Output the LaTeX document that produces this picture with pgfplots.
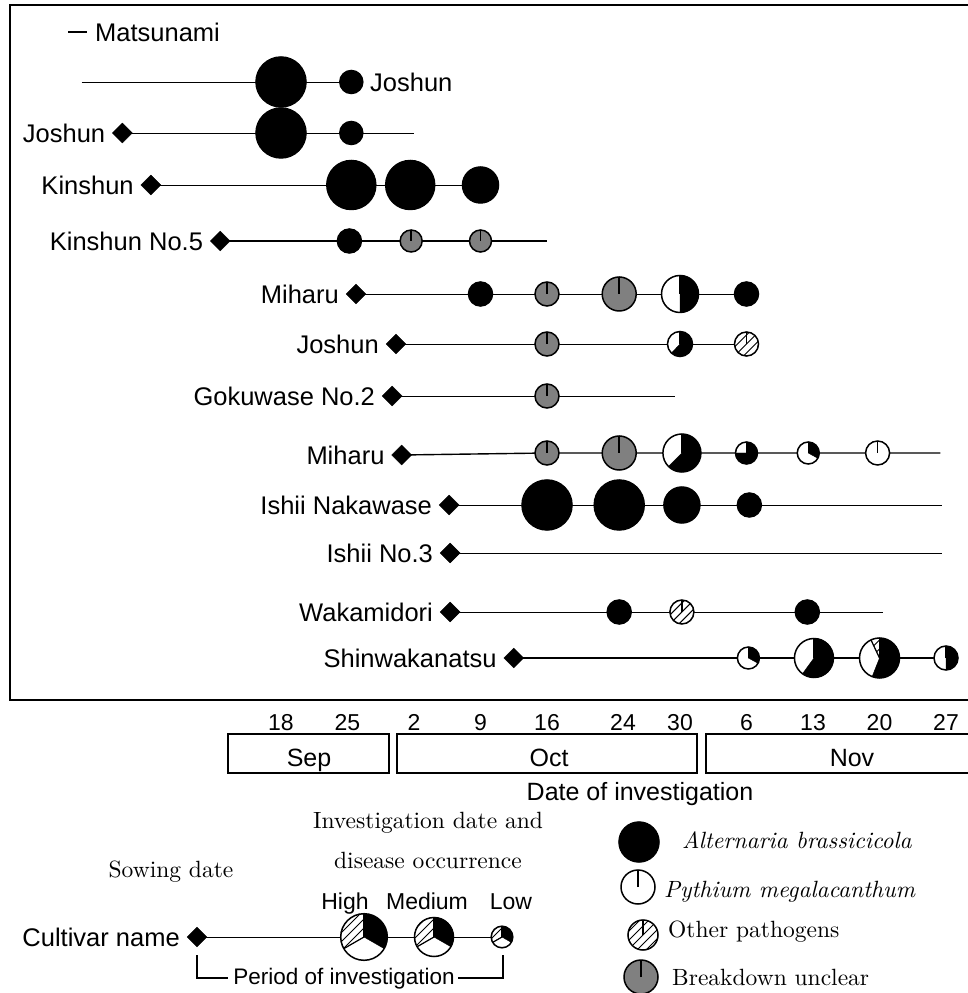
\documentclass[border=0pt]{standalone}
\usepackage{pgfplots}
\pgfplotsset{compat=1.18}
\usepackage{pgfplotstable}
\usepackage{fontspec}
\newfontfamily\arial{Liberation Sans}
\newfontfamily\serif{lmroman10-regular}[Extension=.otf, ItalicFont=lmroman10-italic]

% pie marker: black clockwise from 12 o'clock, hatched counter-clockwise from 12, rest white
\pgfdeclareplotmark{pie}{%
  \pgfmathsetmacro\pr{\pieR}%
  \pgfmathsetmacro\ab{90-360*\pieB}%
  \pgfmathsetmacro\ah{90+360*\pieH}%
  \ifdim\pieG pt>0.5pt
    \fill[gray] (0pt,0pt) circle[radius=\pr pt];
  \else
    \fill[white] (0pt,0pt) circle[radius=\pr pt];
    \ifdim\pieB pt>0pt
      \fill[black] (0pt,0pt) -- (90:\pr pt) arc[start angle=90,end angle=\ab,radius=\pr pt] -- cycle;
    \fi
    \ifdim\pieH pt>0pt
      \begin{scope}
        \clip (0pt,0pt) -- (90:\pr pt) arc[start angle=90,end angle=\ah,radius=\pr pt] -- cycle;
        \foreach \k in {-5,...,5}
          \draw[line width=1pt] (\k*9pt-30pt,-30pt) -- (\k*9pt+30pt,30pt);
      \end{scope}
      \draw[line width=1.2pt] (0pt,0pt) -- (\ah:\pr pt);
    \fi
  \fi
  \draw[line width=1.5pt] (0pt,0pt) circle[radius=\pr pt];
  \draw[line width=1.5pt] (0pt,0pt) -- (90:\pr pt);
}

% x = days counted from 1 Sep (18 = Sep 18, 32 = Oct 2, 67 = Nov 6), y = row position
\pgfplotstableread{
x     y     r     b      h     g
18    -82   25    1      0     0
25.4  -82   11.5  1      0     0
18    -133  25    1      0     0
25.4  -133  11.5  1      0     0
25.4  -185  24.5  1      0     0
31.6  -185  24.5  1      0     0
39    -185  18    1      0     0
25.2  -241  12    1      0     0
31.7  -241  11    0      0     1
39    -241  11    0      0     1
39    -294  12    1      0     0
46    -294  12    0      0     1
53.6  -294  17    0      0     1
60    -294  18.5  0.5    0     0
67    -294  12    1      0     0
46    -344  12    0      0     1
60    -344  12.5  0.62   0     0
67    -344  12    0      1     0
46    -396  12    0      0     1
46    -453  12    0      0     1
53.6  -453  17    0      0     1
60.2  -453  19    0.625  0     0
67    -453  11    0.75   0     0
73.5  -453  11    0.33   0     0
80.8  -453  12    0      0     0
46    -505  25    1      0     0
53.6  -505  25    1      0     0
60.2  -505  18    1      0     0
67.3  -505  12    1      0     0
53.6  -612  12    1      0     0
60.2  -612  12    0      1     0
73.4  -612  12    1      0     0
67.2  -658  11    0.33   0     0
74.1  -658  19.5  0.6    0     0
81    -658  20    0.56   0.07  0
88    -658  12    0.5    0     0
}\pies

% legend symbols
\pgfplotstableread{
x       y     r     b       h       g
26.737  -937  23.3  0.3333  0.3333  0
34.105  -937  19.5  0.3333  0.3333  0
41.263  -937  10.8  0.3333  0.3333  0
55.684  -842  20    1       0       0
55.579  -887  17    0       0       0
56.105  -935  15    0       1       0
55.895  -977  17    0       0       1
}\legpies

% sowing dates
\pgfplotstableread[col sep=comma]{
x,y,name
1.3,-133,Joshun
4.3,-185,Kinshun
11.6,-241,Kinshun No.5
25.9,-294,Miharu
30.1,-344,Joshun
29.7,-396,Gokuwase No.2
30.7,-455,Miharu
35.7,-505,Ishii Nakawase
35.8,-553,Ishii No.3
35.8,-612,Wakamidori
42.5,-658,Shinwakanatsu
9.158,-937,Cultivar name
}\sowing

\begin{document}
\begin{tikzpicture}
\begin{axis}[
    x=9.5pt, y=1pt,
    xmin=-10.526, xmax=90.316,
    ymin=-700, ymax=-5,
    axis line style={draw=none},
    xtick={18,25,32,39,46,54,60,67,74,81,88},
    xticklabels={18,25,2,9,16,24,30,6,13,20,27},
    ytick=\empty,
    major tick length=0pt,
    xticklabel style={font=\arial\fontsize{23}{23}\selectfont, anchor=base, yshift=-30pt},
    clip=false,
    cycle list={{black, solid, mark=none, line width=1.4pt}},
    pie marks/.style={black, only marks, mark=pie,
        visualization depends on={\thisrow{r}\as\pieR},
        visualization depends on={\thisrow{b}\as\pieB},
        visualization depends on={\thisrow{h}\as\pieH},
        visualization depends on={\thisrow{g}\as\pieG}},
]
% periods of investigation
\addplot coordinates {(-3,-82) (25.4,-82)};
\addplot coordinates {(1.3,-133) (32,-133)};
\addplot coordinates {(4.3,-185) (39,-185)};
\addplot coordinates {(11.6,-241) (46,-241)};
\addplot coordinates {(25.9,-294) (67,-294)};
\addplot coordinates {(30.1,-344) (67,-344)};
\addplot coordinates {(29.7,-396) (59.5,-396)};
\addplot coordinates {(30.7,-455) (46,-453) (87.4,-453)};
\addplot coordinates {(35.7,-505) (87.6,-505)};
\addplot coordinates {(35.8,-553) (87.6,-553)};
\addplot coordinates {(35.8,-612) (81.4,-612)};
\addplot coordinates {(42.5,-658) (88,-658)};
\addplot coordinates {(9.158,-937) (41.263,-937)};

% sowing dates with cultivar names
\addplot[black, only marks, mark=square*, mark size=7pt, mark options={rotate=45},
    nodes near coords, point meta=explicit symbolic,
    nodes near coords style={anchor=east, inner sep=0pt, xshift=-17pt,
        font=\arial\fontsize{25.5}{26}\selectfont}]
    table[x=x, y=y, meta=name]{\sowing};

% disease occurrence
\addplot[pie marks] table[x=x, y=y]{\pies};
\addplot[pie marks] table[x=x, y=y]{\legpies};

\draw[line width=1.3pt] (axis cs:92,-5) -- (axis cs:-10.526,-5)
    -- (axis cs:-10.526,-700) -- (axis cs:92,-700);
\coordinate (O) at (axis cs:-11.5789,0);
\coordinate (BR) at (axis cs:90.316,-993);
\end{axis}

\begin{scope}[shift={(O)}, x=1pt, y=-1pt]
  \draw[line width=1.2pt] (68,32) -- (87,32);
  \node[anchor=west, inner sep=0pt, font=\arial\fontsize{25.5}{26}\selectfont] at (95,32) {Matsunami};
  \node[anchor=west, inner sep=0pt, font=\arial\fontsize{25.5}{26}\selectfont] at (370,82) {Joshun};

  % month boxes
  \draw[line width=1.2pt] (228,734) rectangle (389,773);
  \draw[line width=1.2pt] (397,734) rectangle (697,773);
  \draw[line width=1.2pt] (1000,734) -- (706,734) -- (706,773) -- (1000,773);
  \begin{scope}[every node/.style={anchor=base, inner sep=0pt, font=\arial\fontsize{25}{26}\selectfont}]
    \node at (309,766) {Sep};
    \node at (549,766) {Oct};
    \node at (852,766) {Nov};
    \node at (640,800) {Date of investigation};
  \end{scope}

  % legend
  \begin{scope}[every node/.style={anchor=base, inner sep=0pt, font=\serif\fontsize{23.5}{28}\selectfont}]
    \node at (428,828) {Investigation date and};
    \node at (428,868) {disease occurrence};
    \node at (171,877) {Sowing date};
  \end{scope}
  \begin{scope}[every node/.style={anchor=base, inner sep=0pt, font=\arial\fontsize{23}{26}\selectfont}]
    \node at (345,909) {High};
    \node at (427,909) {Medium};
    \node at (511,909) {Low};
  \end{scope}
  \draw[line width=1.3pt] (197,955) -- (197,978) -- (228,978);
  \draw[line width=1.3pt] (458,978) -- (503,978) -- (503,955);
  \node[anchor=base, inner sep=0pt, font=\arial\fontsize{22.5}{26}\selectfont] at (344,984) {Period of investigation};

  \begin{scope}[every node/.style={anchor=base west, inner sep=0pt, font=\serif\fontsize{23.5}{28}\selectfont}]
    \node at (682,848) {\itshape Alternaria brassicicola};
    \node at (664,897) {\itshape Pythium megalacanthum};
    \node at (668,937) {Other pathogens};
    \node at (672,985) {Breakdown unclear};
  \end{scope}
\end{scope}

\pgfresetboundingbox
\path (O) rectangle (BR);
\end{tikzpicture}
\end{document}
